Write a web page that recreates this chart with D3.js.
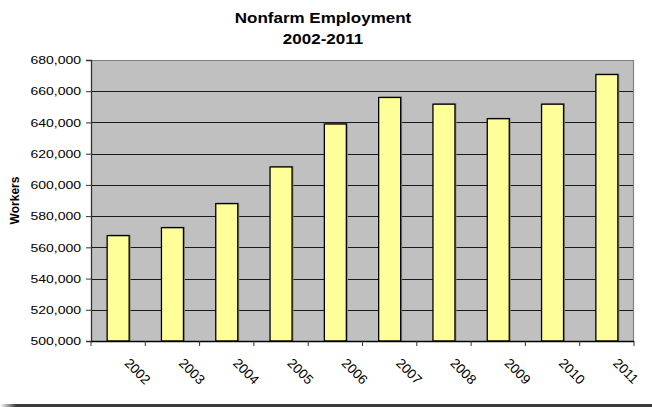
<!DOCTYPE html>
<html>
<head>
<meta charset="utf-8">
<script src="https://cdn.jsdelivr.net/npm/d3@7"></script>
<style>
  html, body { margin: 0; padding: 0; background: #ffffff; }
  svg { display: block; font-family: Arial, "Liberation Sans", sans-serif; }
</style>
</head>
<body>
<svg id="chart" width="652" height="407"></svg>
<script>
// Annual nonfarm employment, number of workers
const years = ["2002", "2003", "2004", "2005", "2006", "2007", "2008", "2009", "2010", "2011"];
const workers = [567500, 572600, 588000, 611500, 639000, 656000, 651700, 642400, 651700, 670700];
const yTicks = [500000, 520000, 540000, 560000, 580000, 600000, 620000, 640000, 660000, 680000];
const titleLines = ["Nonfarm Employment", "2002-2011"];
const yTitle = "Workers";

const W = 652, H = 407;
const plot = { left: 91, right: 634, top: 60, bottom: 341 };
// text in this chart is set slightly condensed vertically
const squash = 0.82;

const svg = d3.select("#chart");

const x = d3.scaleBand()
  .domain(years)
  .range([plot.left, plot.right])
  .paddingInner(0.595)
  .paddingOuter(0.2975);

const y = d3.scaleLinear()
  .domain([yTicks[0], yTicks[yTicks.length - 1]])
  .range([plot.bottom, plot.top]);

// plot background
svg.append("rect")
  .attr("x", plot.left).attr("y", plot.top)
  .attr("width", plot.right - plot.left).attr("height", plot.bottom - plot.top)
  .attr("fill", "#c0c0c0");

// horizontal gridlines
svg.append("g")
  .selectAll("line")
  .data(yTicks.slice(1, -1))
  .join("line")
  .attr("x1", plot.left).attr("x2", plot.right)
  .attr("y1", d => Math.round(y(d)) + 0.5).attr("y2", d => Math.round(y(d)) + 0.5)
  .attr("stroke", "#1a1a1a").attr("stroke-width", 1);

// plot frame (top and right)
svg.append("path")
  .attr("d", `M${plot.left},${plot.top + 0.5}H${plot.right - 0.5}V${plot.bottom}`)
  .attr("fill", "none").attr("stroke", "#808080").attr("stroke-width", 1.2);

// bar shadows
svg.append("g")
  .selectAll("rect")
  .data(years)
  .join("rect")
  .attr("x", d => x(d) + 1.5)
  .attr("y", (d, i) => y(workers[i]) - 1)
  .attr("width", x.bandwidth())
  .attr("height", (d, i) => plot.bottom - y(workers[i]) + 1)
  .attr("fill", "#8a8a8a");

// bars
svg.append("g")
  .selectAll("rect")
  .data(years)
  .join("rect")
  .attr("x", d => x(d))
  .attr("y", (d, i) => y(workers[i]))
  .attr("width", x.bandwidth())
  .attr("height", (d, i) => plot.bottom - y(workers[i]))
  .attr("fill", "#ffff99")
  .attr("stroke", "#000")
  .attr("stroke-width", 1.3);

// y axis
const yAxis = svg.append("g")
  .attr("transform", `translate(${plot.left},0)`)
  .call(d3.axisLeft(y).tickValues(yTicks).tickFormat(d3.format(",")).tickSize(5).tickPadding(5));
yAxis.select(".domain").attr("stroke", "#333").attr("stroke-width", 1.3);
yAxis.selectAll(".tick line").attr("stroke", "#333");
yAxis.selectAll(".tick text")
  .attr("font-size", 14).attr("fill", "#000")
  .attr("font-family", "Arial, 'Liberation Sans', sans-serif")
  .attr("transform", `scale(1,${squash})`);

// x axis: tick marks sit on category boundaries
const boundaries = years.map(d => x(d) - x.step() * x.paddingInner() / 2).concat([plot.right]);
svg.append("line")
  .attr("x1", plot.left).attr("x2", plot.right)
  .attr("y1", plot.bottom + 0.5).attr("y2", plot.bottom + 0.5)
  .attr("stroke", "#000").attr("stroke-width", 1.3);
svg.append("g")
  .selectAll("line")
  .data(boundaries)
  .join("line")
  .attr("x1", d => d).attr("x2", d => d)
  .attr("y1", plot.bottom).attr("y2", plot.bottom + 5)
  .attr("stroke", "#333");

svg.append("g")
  .selectAll("text")
  .data(years)
  .join("text")
  .attr("transform", d => `translate(${x(d) + x.bandwidth() / 2 + 5.5},${plot.bottom + 23}) rotate(45)`)
  .attr("font-size", 13.5)
  .attr("text-anchor", "start")
  .text(d => d);

// y axis title
svg.append("text")
  .attr("transform", `translate(19,${(plot.top + plot.bottom) / 2}) rotate(-90)`)
  .attr("text-anchor", "middle")
  .attr("font-size", 12).attr("font-weight", "bold")
  .text(yTitle);

// chart title
svg.append("g")
  .selectAll("text")
  .data(titleLines)
  .join("text")
  .attr("transform", (d, i) => `translate(323,${23 + i * 20.6}) scale(1,${squash})`)
  .attr("text-anchor", "middle")
  .attr("font-size", 17).attr("font-weight", "bold")
  .text(d => d);

// dark rule along the bottom edge, fading in from the left
const grad = svg.append("defs").append("linearGradient")
  .attr("id", "rule-fade").attr("x1", 0).attr("x2", 1).attr("y1", 0).attr("y2", 0);
grad.append("stop").attr("offset", 0).attr("stop-color", "#ffffff");
grad.append("stop").attr("offset", 0.025).attr("stop-color", "#3a3a3a");
grad.append("stop").attr("offset", 1).attr("stop-color", "#3a3a3a");
svg.append("rect")
  .attr("x", 0).attr("y", 404).attr("width", W).attr("height", 3)
  .attr("fill", "url(#rule-fade)");
</script>
</body>
</html>
